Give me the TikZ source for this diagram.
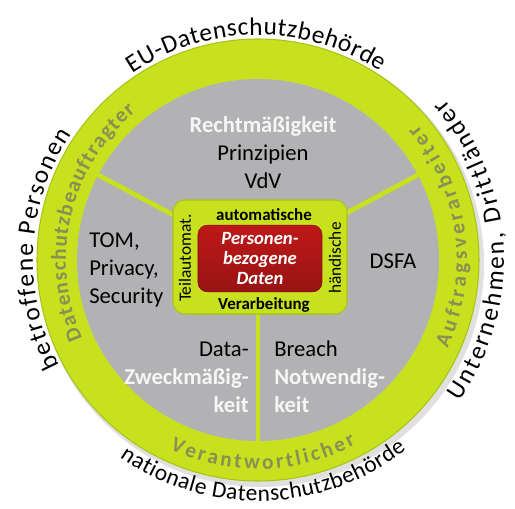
\documentclass[tikz,border=0pt]{standalone}
\usepackage{fontspec}
\setmainfont{Carlito}
\usepackage{tikz}
\usetikzlibrary{positioning,decorations.text}
\definecolor{ringgreen}{RGB}{200,225,30}
\definecolor{ringedge}{RGB}{170,195,22}
\definecolor{ringtext}{RGB}{136,144,84}
\definecolor{sectorgray}{RGB}{178,178,181}
\definecolor{datared}{RGB}{190,24,24}
\definecolor{datadark}{RGB}{140,8,10}
\definecolor{lighttext}{RGB}{246,246,246}
\tikzset{
ring/.style = {draw=ringedge, line width=0.8pt, fill=ringgreen},
sector/.style = {fill=sectorgray},
divider/.style = {draw=ringgreen, line width=3.5pt},
core/.style = {draw=ringedge, line width=0.8pt, fill=ringgreen, rounded corners=9pt, minimum width=130.5pt, minimum height=85.5pt},
datbox/.style = {draw=datadark, top color=datared, bottom color=datared!80!black, rounded corners=7pt, minimum width=93pt, minimum height=50pt, inner sep=0pt, text=white, align=center, font=\fontsize{14}{15}\selectfont\bfseries\itshape},
proc/.style = {inner sep=0pt, font=\fontsize{12.7}{14}\selectfont\bfseries},
modetext/.style = {inner sep=0pt, rotate=90, font=\fontsize{13}{14}\selectfont},
fieldtext/.style = {inner sep=0pt, align=center, font=\fontsize{17}{21}\selectfont},
ringlabel/.style = {decorate, decoration={text along path, text align={fit to path}, text={|\fontsize{16}{16}\selectfont\bfseries\color{ringtext}|#1}}},
outerlabel/.style = {decorate, decoration={text along path, text align={fit to path}, text={|\fontsize{19}{19}\selectfont|#1}}},
lowlabel/.style = {decorate, decoration={text along path, text align={fit to path}, text={|\fontsize{17.5}{17.5}\selectfont|#1}}}
}

\begin{document}
\begin{tikzpicture}[x=0.75pt, y=0.75pt]
    \useasboundingbox (-258,-248) rectangle (257,260);

    % ring and the three fields
    \fill [black, opacity=0.12] (3,-4) circle [radius=223];
    \draw [ring] (0,0) circle [radius=221];
    \fill [sector] (0,0) circle [radius=181];
    \foreach \a in {28,152,270}
        \draw [divider] (0,0) -- (\a:182);

    % roles in the ring
    \path [ringlabel=Datenschutzbeauftragter] (204:192) arc [start angle=204, end angle=129.5, radius=192];
    \path [ringlabel=Auftragsverarbeiter] (-25:209) arc [start angle=-25, end angle=40.5, radius=209];
    \path [ringlabel=Verantwortlicher] (245:209) arc [start angle=245, end angle=298, radius=209];

    % outside the ring
    \path [outerlabel=EU-Datenschutzbehörde] (124:225) arc [start angle=124, end angle=57, radius=225];
    \path [outerlabel=betroffene Personen] (208:225) arc [start angle=208, end angle=146, radius=225];
    \path [outerlabel={Unternehmen, Drittländer}] (-35:246) arc [start angle=-35, end angle=41, radius=246];
    \path [lowlabel=nationale Datenschutzbehörde] (235:241) arc [start angle=235, end angle=308, radius=241];

    % fields
    \node [fieldtext] (legal) at (5,107) {{\color{lighttext}\bfseries Rechtmäßigkeit}\\Prinzipien\\VdV};
    \node [fieldtext, align=left, anchor=west] (tom) at (-169,-10) {TOM,\\Privacy,\\Security};
    \node [fieldtext] (dsfa) at (135,-1) {DSFA};
    \node [fieldtext, align=right, anchor=east] (purpose) at (-9,-117) {Data-\\{\color{lighttext}\bfseries Zweckmäßig-}\\{\color{lighttext}\bfseries keit}};
    \node [fieldtext, align=left, anchor=west] (breach) at (16,-117) {Breach\\{\color{lighttext}\bfseries Notwendig-}\\{\color{lighttext}\bfseries keit}};

    % processing core
    \node [core] (core) at (2,3) {};
    \node [datbox] (data) at (2,1.5) {Personen-\\bezogene\\Daten};
    \node [proc] (auto) at (6,45) {automatische};
    \node [proc] (verarb) at (6,-45) {Verarbeitung};
    \node [modetext] (teil) at (-73,2) {Teilautomat.};
    \node [modetext] (hand) at (77,2) {händische};
\end{tikzpicture}
\end{document}
